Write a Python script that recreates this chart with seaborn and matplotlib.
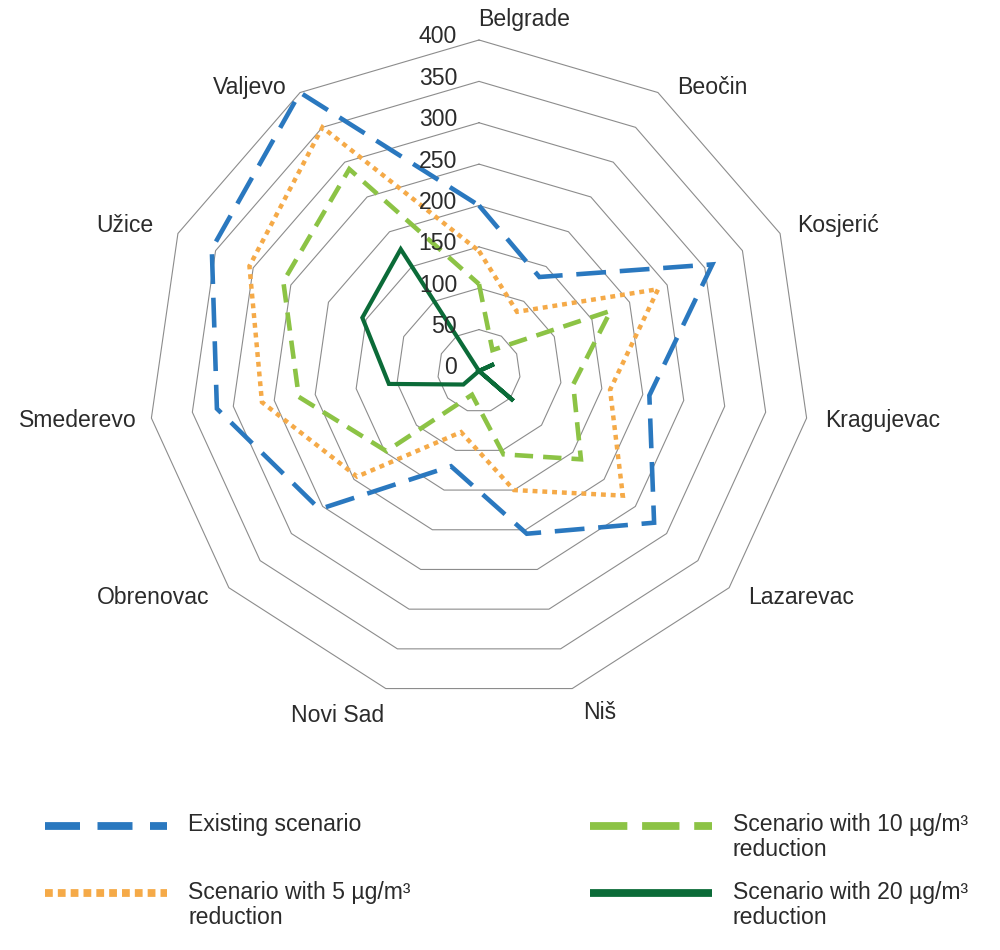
import numpy as np
import pandas as pd
import seaborn as sns
import matplotlib.pyplot as plt
from matplotlib.lines import Line2D

# values
cities = ['Belgrade', 'Beočin', 'Kosjerić', 'Kragujevac', 'Lazarevac', 'Niš',
          'Novi Sad', 'Obrenovac', 'Smederevo', 'Užice', 'Valjevo']
existing = [200, 135, 310, 208, 280, 205, 120, 255, 320, 355, 400]
red_5 = [145, 85, 238, 160, 230, 150, 77, 195, 265, 305, 350]
red_10 = [105, 30, 175, 115, 163, 105, 30, 148, 220, 260, 290]
red_20 = [0, 0, 20, 0, 55, 0, 0, 25, 110, 155, 175]
r_ticks = [0, 50, 100, 150, 200, 250, 300, 350, 400]

scenarios = ['Existing scenario',
             'Scenario with 5 µg/m³\nreduction',
             'Scenario with 10 µg/m³\nreduction',
             'Scenario with 20 µg/m³\nreduction']
colors = ['#2a78bf', '#f5aa48', '#8cc345', '#0b6b38']
dashes = {scenarios[0]: (6.5, 3), scenarios[1]: (1.1, 1.1),
          scenarios[2]: (4, 2.2), scenarios[3]: ''}
# legend handle dash patterns (in linewidth units)
legend_dashes = [(4.5, 2.25), (1.0, 0.65), (4.8, 1.9), None]

sns.set_theme(style='white')
plt.rcParams['font.family'] = ['Liberation Sans', 'DejaVu Sans']
FS = 16.6
TXT = '#2b2b2b'

n = len(cities)
angles = np.linspace(0, 2 * np.pi, n, endpoint=False)
theta_closed = np.append(angles, 2 * np.pi)

rows = []
for name, vals in zip(scenarios, [existing, red_5, red_10, red_20]):
    for t, v in zip(theta_closed, vals + vals[:1]):
        rows.append({'theta': t, 'value': v, 'scenario': name})
df = pd.DataFrame(rows)

fig = plt.figure(figsize=(10, 9.5), dpi=100)
ax = fig.add_axes([0.148, 0.2611, 0.662, 0.6968], projection='polar')
ax.set_theta_zero_location('N')
ax.set_theta_direction(-1)
ax.set_ylim(0, 400)
ax.grid(False)
ax.set_xticks([])
ax.set_yticks([])
ax.spines['polar'].set_visible(False)
ax.set_facecolor('none')

# polygon grid rings
for r in r_ticks[1:]:
    ax.plot(theta_closed, [r] * (n + 1), color='#8c8c8c', lw=0.8, zorder=0,
            clip_on=False)

sns.lineplot(data=df, x='theta', y='value', hue='scenario', style='scenario',
             hue_order=scenarios, style_order=scenarios, palette=colors,
             dashes=dashes, sort=False, estimator=None, legend=False, ax=ax)

widths = [3.3, 3.2, 3.3, 3.0]
for line, w in zip(ax.get_lines()[len(r_ticks) - 1:], widths):
    line.set_linewidth(w)
    line.set_dash_capstyle('butt')
    line.set_solid_joinstyle('miter')
    line.set_dash_joinstyle('miter')
    line.set_clip_on(False)
ax.set_xlabel('')
ax.set_ylabel('')

# radial labels to the left of the Belgrade axis
for r in r_ticks:
    ax.text(0.4668, 0.5 + (r / 400 * 331 + 3) / 662, str(r),
            transform=ax.transAxes, ha='right', va='center',
            fontsize=FS, color=TXT)

# category labels
offsets = [(-1, 20), (19, 5), (17, 8), (19, -2), (19, -10), (11, -24),
           (-2, -27), (-19, -10), (-15, -2), (-24, 8), (-13, 5)]
for t, name, (dx, dy) in zip(angles, cities, offsets):
    ha = 'left' if dx >= -1 else 'right'
    ax.annotate(name, xy=(t, 400), xytext=(dx, dy), textcoords='offset pixels',
                ha=ha, va='center', fontsize=FS, color=TXT,
                annotation_clip=False)

# legend drawn by hand so rows line up like the original
W, H = 1000, 950
slots = [(45, 826), (45, 893), (590, 826), (590, 893)]
for (x0, y0), name, c, ld in zip(slots, scenarios, colors, legend_dashes):
    ln = Line2D([x0 / W, (x0 + 122) / W], [1 - y0 / H, 1 - y0 / H],
                transform=fig.transFigure, color=c, lw=5.6,
                solid_capstyle='butt', dash_capstyle='butt')
    if ld:
        ln.set_dashes(ld)
    fig.add_artist(ln)
    for k, part in enumerate(name.split('\n')):
        fig.text((x0 + 143) / W, 1 - (y0 - 1 + 25 * k) / H, part, ha='left',
                 va='center', fontsize=FS, color=TXT)

fig.savefig('out.png', dpi=100, facecolor='white')
